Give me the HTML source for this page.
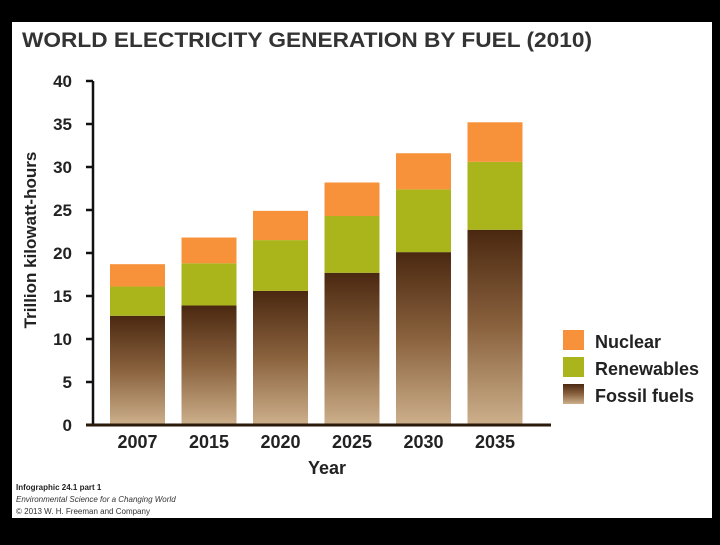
<!DOCTYPE html>
<html><head><meta charset="utf-8"><style>
body{margin:0;background:#000;width:720px;height:540px;overflow:hidden;font-family:"Liberation Sans",sans-serif}
</style></head><body>
<svg width="720" height="540">
<defs><linearGradient id="fg" x1="0" y1="0" x2="0" y2="1"><stop offset="0" stop-color="#4a2810"/><stop offset="0.5" stop-color="#8a623e"/><stop offset="1" stop-color="#cdb08c"/></linearGradient></defs>
<rect x="12" y="22" width="700" height="496" fill="#fff"/>
<text x="22" y="47" font-size="21" font-weight="bold" fill="#333" textLength="570" lengthAdjust="spacingAndGlyphs">WORLD ELECTRICITY GENERATION BY FUEL (2010)</text>
<g id="plot"></g>
<text transform="translate(36,240) rotate(-90)" text-anchor="middle" font-size="17" font-weight="bold" fill="#222">Trillion kilowatt-hours</text>
<text x="327" y="474" text-anchor="middle" font-size="18" font-weight="bold" fill="#222">Year</text>
<g font-size="18" font-weight="bold" fill="#222">
<rect x="563" y="330" width="21" height="20" fill="#f7923a"/>
<text x="595" y="348">Nuclear</text>
<rect x="563" y="357" width="21" height="20" fill="#a9b51a"/>
<text x="595" y="375">Renewables</text>
<rect x="563" y="384" width="21" height="20" fill="url(#fg)"/>
<text x="595" y="402">Fossil fuels</text>
</g>
<text x="16" y="490" font-size="8" font-weight="bold" fill="#222">Infographic 24.1 part 1</text>
<text x="16" y="502" font-size="8" font-style="italic" fill="#333">Environmental Science for a Changing World</text>
<text x="16" y="514" font-size="8" fill="#333">© 2013 W. H. Freeman and Company</text>
</svg>
<script>
const years=["2007","2015","2020","2025","2030","2035"];
const fossil=[12.7,13.9,15.6,17.7,20.1,22.7];
const renew=[3.4,4.9,5.9,6.6,7.3,7.9];
const nuclear=[2.6,3.0,3.4,3.9,4.2,4.6];
const yTicks=[0,5,10,15,20,25,30,35,40];
const NS="http://www.w3.org/2000/svg";
const g=document.getElementById('plot');
const y=v=>425-v*8.6;
const x=i=>110+i*71.5;
const bw=55;
function mk(t,a){const e=document.createElementNS(NS,t);for(const k in a)e.setAttribute(k,a[k]);g.appendChild(e);return e;}
let ax=mk('line',{x1:93,y1:y(40),x2:93,y2:425,stroke:'#111','stroke-width':2.5});


yTicks.forEach(t=>{
 const l=mk('line',{x1:86,x2:93,y1:y(t),y2:y(t),stroke:'#111','stroke-width':2.5});
 
 
 const tx=mk('text',{x:72,y:y(t)+6,'text-anchor':'end','font-size':17,'font-weight':'bold',fill:'#222'});
 tx.textContent=t;
 
 
});
years.forEach((yr,i)=>{
 const f=fossil[i],r=renew[i],n=nuclear[i];
 const b1=mk('rect',{x:x(i),y:y(f),width:bw,height:f*8.6,fill:'url(#fg)'});
 
 
 const b2=mk('rect',{x:x(i),y:y(f+r),width:bw,height:r*8.6,fill:'#a9b51a'});
 
 
 const b3=mk('rect',{x:x(i),y:y(f+r+n),width:bw,height:n*8.6,fill:'#f7923a'});
 
 
 const tx=mk('text',{x:x(i)+bw/2,y:448,'text-anchor':'middle','font-size':18,'font-weight':'bold',fill:'#222'});
 tx.textContent=yr;
 
 
});
const base=mk('line',{x1:86,x2:551,y1:425,y2:425,stroke:'#2a1a0a','stroke-width':3});


</script>
</body></html>
